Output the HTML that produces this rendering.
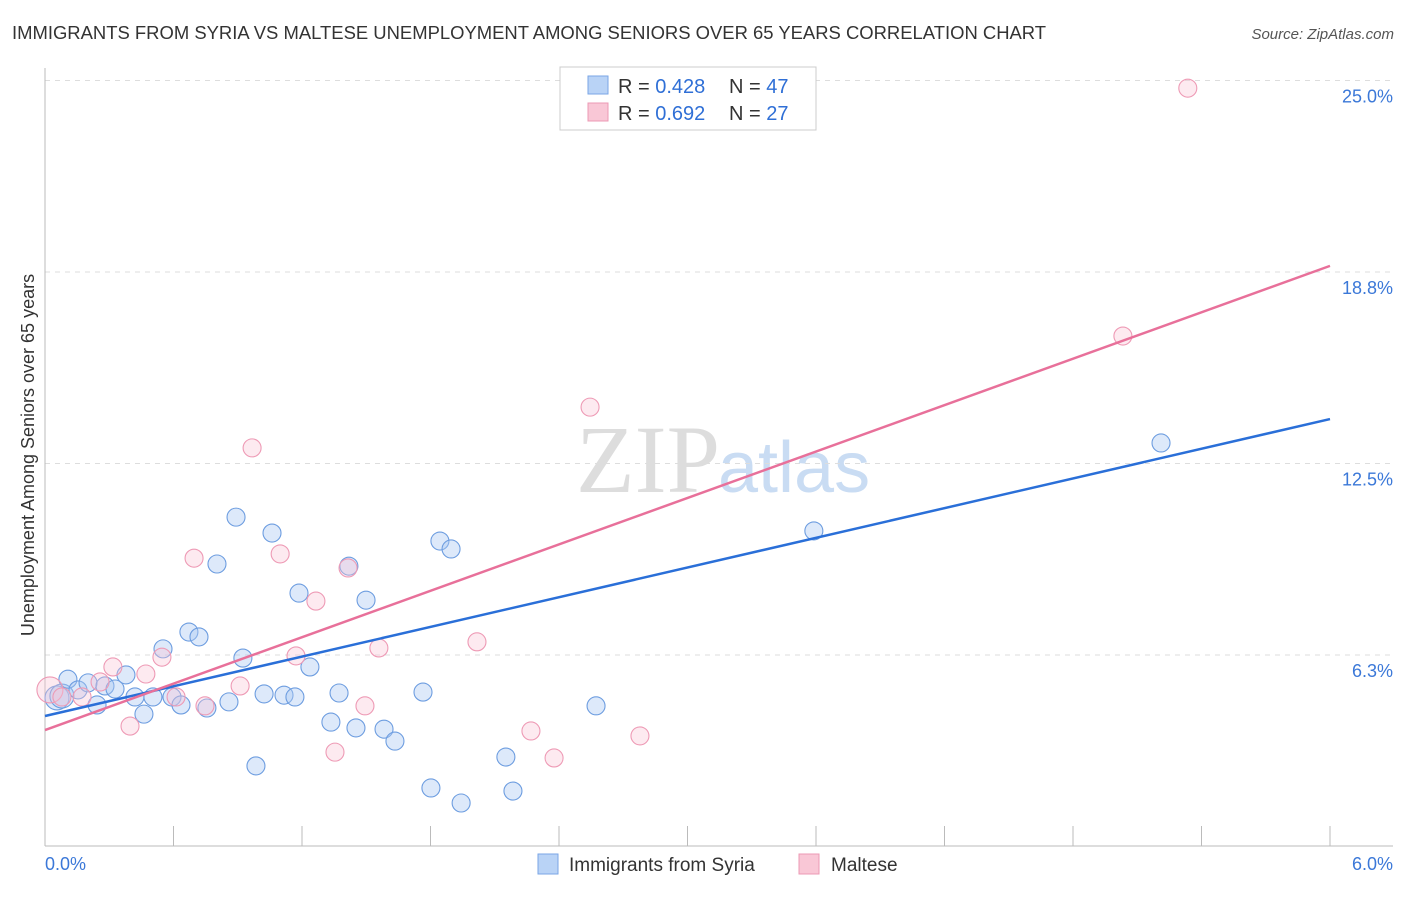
<!DOCTYPE html>
<html><head><meta charset="utf-8"><style>
body{margin:0;background:#fff;font-family:"Liberation Sans",sans-serif;}
</style></head><body>
<svg id="c" width="1406" height="892" xmlns="http://www.w3.org/2000/svg" font-family="Liberation Sans, sans-serif">
<text x="12" y="39" font-size="18.45" fill="#333">IMMIGRANTS FROM SYRIA VS MALTESE UNEMPLOYMENT AMONG SENIORS OVER 65 YEARS CORRELATION CHART</text>
<text x="1394" y="39" font-size="15" fill="#555" font-style="italic" text-anchor="end">Source: ZipAtlas.com</text>
<text x="720" y="492" font-size="96" fill="#ddd" text-anchor="end" font-family="Liberation Serif, serif">ZIP</text>
<text x="718" y="492" font-size="72" fill="#c9dcf3">atlas</text>
<text transform="translate(34,455) rotate(-90)" font-size="18" fill="#333" text-anchor="middle">Unemployment Among Seniors over 65 years</text>
<g id="grid"></g><g id="pts"></g><g id="lines"></g>
<g>
<rect x="560" y="67" width="256" height="63" fill="#fff" stroke="#ccc"/>
<rect x="588" y="76" width="20" height="18" fill="#b9d3f6" stroke="#7aa6e6"/>
<rect x="588" y="103" width="20" height="18" fill="#f9c7d6" stroke="#ec9ab4"/>
<text x="618" y="93" font-size="20" fill="#333">R = <tspan fill="#2f6fd6">0.428</tspan></text>
<text x="729" y="93" font-size="20" fill="#333">N = <tspan fill="#2f6fd6">47</tspan></text>
<text x="618" y="120" font-size="20" fill="#333">R = <tspan fill="#2f6fd6">0.692</tspan></text>
<text x="729" y="120" font-size="20" fill="#333">N = <tspan fill="#2f6fd6">27</tspan></text>
</g>
<g>
<rect x="538" y="854" width="20" height="20" fill="#b9d3f6" stroke="#7aa6e6"/>
<text x="569" y="871" font-size="19" fill="#333">Immigrants from Syria</text>
<rect x="799" y="854" width="20" height="20" fill="#f9c7d6" stroke="#ec9ab4"/>
<text x="831" y="871" font-size="19" fill="#333">Maltese</text>
</g>
</svg>
<script>
const xTicks=[0,0.6,1.2,1.8,2.4,3.0,3.6,4.2,4.8,5.4,6.0];
const yTicks=[6.25,12.5,18.75,25];
const yTickLabels=["6.3%","12.5%","18.8%","25.0%"];
const syriaX=[0.056,0.079,0.107,0.154,0.201,0.280,0.327,0.243,0.378,0.420,0.462,0.504,0.551,0.593,0.635,0.672,0.719,0.756,0.803,0.859,0.892,0.924,0.985,1.023,1.060,1.116,1.167,1.186,1.237,1.335,1.373,1.419,1.452,1.499,1.583,1.634,1.765,1.802,1.844,1.896,1.943,2.152,2.185,2.573,3.590,5.211,3.128];
const syriaY=[4.85,4.91,5.46,5.11,5.34,5.24,5.14,4.62,5.60,4.88,4.32,4.88,6.45,4.88,4.62,7.00,6.84,4.52,9.22,4.72,10.75,6.15,2.63,4.98,10.23,4.94,4.88,8.27,5.86,4.06,5.01,9.15,3.87,8.04,3.83,3.44,5.04,1.91,9.97,9.71,1.42,2.92,1.81,4.59,10.30,13.17,24.82];
const maltX=[0.023,0.079,0.173,0.257,0.317,0.397,0.471,0.546,0.612,0.696,0.747,0.911,0.967,1.098,1.172,1.265,1.354,1.415,1.494,1.559,2.017,2.269,2.377,2.545,2.778,5.033,5.336];
const maltY=[5.11,4.88,4.88,5.37,5.86,3.93,5.63,6.18,4.88,9.41,4.59,5.24,13.01,9.55,6.22,8.01,3.08,9.09,4.59,6.48,6.68,3.77,2.89,14.34,3.61,16.66,24.75];
const syriaLine=[4.26,13.95];
const maltLine=[3.80,18.95];
const NS="http://www.w3.org/2000/svg";
const X=v=>45+v/6*1285, Y=v=>846.5-v/6.25*191.5;
function mk(t,a,p){const e=document.createElementNS(NS,t);for(const k in a)e.setAttribute(k,a[k]);document.getElementById(p).appendChild(e);return e;}
yTicks.forEach((v,i)=>{
 let l=mk('line',{x1:45,x2:1393,y1:Y(v),y2:Y(v),stroke:'#ddd','stroke-dasharray':'5,5'},'grid');
 
 
 let t=mk('text',{x:1393,y:Y(v)+22,'font-size':18,fill:'#3b78d8','text-anchor':'end'},'grid');t.textContent=yTickLabels[i];
 
 
});
let ax=mk('line',{x1:45,x2:45,y1:68,y2:846,stroke:'#bbb'},'grid');


let bx=mk('line',{x1:45,x2:1393,y1:846,y2:846,stroke:'#bbb'},'grid');


xTicks.forEach(v=>{let l=mk('line',{x1:X(v),x2:X(v),y1:826,y2:846,stroke:'#bbb'},'grid');
 
 });
[[0,"0.0%",'start',45],[6,"6.0%",'end',1393]].forEach(d=>{let t=mk('text',{x:d[3],y:870,'font-size':18,fill:'#3b78d8','text-anchor':d[2]},'grid');t.textContent=d[1];
 
 });
syriaX.forEach((x,i)=>{let c=mk('circle',{cx:X(x),cy:Y(syriaY[i]),r:i<2?12:9,fill:'rgba(170,200,242,0.4)',stroke:'#6d9de0','stroke-width':1.1},'pts');
 
 });
maltX.forEach((x,i)=>{let c=mk('circle',{cx:X(x),cy:Y(maltY[i]),r:i<1?13:9,fill:'rgba(248,195,212,0.35)',stroke:'#ee9ab5','stroke-width':1.1},'pts');
 
 });
let l1=mk('line',{x1:X(0),y1:Y(syriaLine[0]),x2:X(6),y2:Y(syriaLine[1]),stroke:'#2a6fd8','stroke-width':2.5},'lines');


let l2=mk('line',{x1:X(0),y1:Y(maltLine[0]),x2:X(6),y2:Y(maltLine[1]),stroke:'#e8709a','stroke-width':2.5},'lines');


</script>
</body></html>
